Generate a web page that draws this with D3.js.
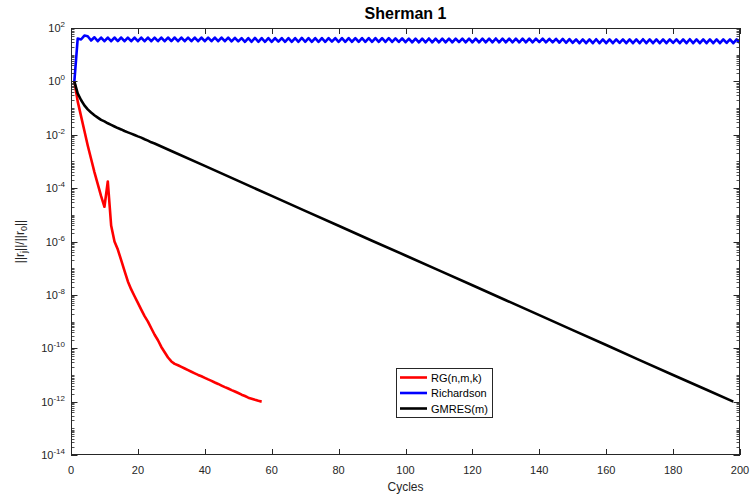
<!DOCTYPE html>
<html>
<head>
<meta charset="utf-8">
<script src="https://cdn.jsdelivr.net/npm/d3@7"></script>
<style>
  html, body { margin: 0; padding: 0; background: #fff; }
  svg { display: block; font-family: "Liberation Sans", Arial, Helvetica, sans-serif; }
</style>
</head>
<body>
<svg id="chart" width="750" height="494"></svg>
<script>
// ---------- data ----------
const titleText = "Sherman 1";
const xLabel = "Cycles";
const xTicks = [0, 20, 40, 60, 80, 100, 120, 140, 160, 180, 200];
const yTickExponents = [2, 0, -2, -4, -6, -8, -10, -12, -14];
const seriesNames = ["RG(n,m,k)", "Richardson", "GMRES(m)"];
const seriesColors = ["#ff0000", "#0000ff", "#000000"];

const rgCycles = [1,2,3,4,5,6,7,8,9,10,11,12,13,14,15,16,17,18,19,20,21,22,23,24,25,26,27,28,29,30,
  31,32,33,34,35,36,37,38,39,40,41,42,43,44,45,46,47,48,49,50,51,52,53,54,55,56,57];
const rgValues = [1, 1.78e-1, 5.0e-2, 1.41e-2, 3.98e-3, 1.26e-3, 3.98e-4, 1.41e-4, 5.0e-5, 2.0e-5,
  1.78e-4, 3.98e-6, 1.0e-6, 5.0e-7, 2.0e-7, 7.9e-8, 3.2e-8, 1.6e-8, 8.9e-9, 5.0e-9,
  2.8e-9, 1.6e-9, 1.0e-9, 5.6e-10, 3.2e-10, 2.0e-10, 1.12e-10, 7.1e-11, 4.5e-11, 3.2e-11,
  2.6e-11, 2.3e-11, 2.0e-11, 1.74e-11, 1.51e-11, 1.32e-11, 1.15e-11, 1.0e-11, 8.9e-12, 7.8e-12,
  6.8e-12, 6.0e-12, 5.2e-12, 4.6e-12, 4.0e-12, 3.5e-12, 3.1e-12, 2.7e-12, 2.4e-12, 2.1e-12,
  1.82e-12, 1.62e-12, 1.41e-12, 1.29e-12, 1.17e-12, 1.07e-12, 1.0e-12];

// Richardson: one value per cycle, 1..200
const richValues = [
  1, 40, 37, 52, 49, 34, 45, 32, 44, 32,
  44, 32, 44, 32.5, 44, 32, 43.5, 32, 44, 32,
  44, 32, 44, 32, 43.5, 32, 44, 32, 44, 32.5,
  44, 32, 44, 32, 43.5, 32, 44, 32, 44, 32,
  43.5, 32, 44, 32, 44, 32, 43.5, 31.5, 43, 31.5,
  42, 30.5, 42, 30.5, 42.5, 30.5, 42, 30.5, 42, 30.5,
  42, 31, 42, 30.5, 42, 30.5, 42, 30.5, 42.5, 30.5,
  42, 30.5, 42, 30.5, 42, 30.5, 42, 31, 42, 30.5,
  42, 30.5, 42, 30.5, 41.5, 30.5, 42, 30.5, 42, 30.5,
  42, 30.5, 41.5, 30, 41.5, 30, 41, 30, 41, 29.5,
  40, 29, 40, 29, 40, 29, 40.5, 29, 40, 29,
  40, 29, 40, 29, 40, 29.5, 40, 29, 40, 29,
  40, 29, 40, 29, 40, 29, 40.5, 29, 40, 29,
  40, 29, 40, 29, 40, 29, 40, 29, 40, 29.5,
  40, 29, 39.5, 29, 39.5, 28.5, 39, 28, 38.5, 28,
  37.5, 27, 37.5, 27, 37.5, 27, 38, 27, 37.5, 27,
  37.5, 27, 37.5, 27.5, 37.5, 27, 37.5, 27, 37.5, 27,
  38, 27, 37.5, 27, 37.5, 27, 37.5, 27, 37.5, 27.5,
  37.5, 27, 37.5, 27, 38, 27, 37.5, 27, 37.5, 27,
  37.5, 27, 37.5, 27, 37.5, 27.5, 37.5, 27, 37.5, 27
];
const richCycles = richValues.map((v, i) => i + 1);

const gmresCycles = [1,2,3,4,5,6,7,8,9,10,11,12,13,14,15,16,17,18,19,20,21,22,23,24,25,
  30,40,50,60,70,80,90,100,110,120,130,140,150,160,170,180,190,198];
const gmresValues = [1, 0.355, 0.20, 0.126, 0.089, 0.068, 0.054, 0.044, 0.036, 0.0316,
  0.0269, 0.0234, 0.0204, 0.0178, 0.0158, 0.0138, 0.0123, 0.011, 0.0098, 0.0087,
  0.0078, 0.0068, 0.006, 0.0052, 0.0047,
  2.45e-3, 6.8e-4, 1.86e-4, 5.1e-5, 1.41e-5, 3.9e-6, 1.07e-6, 3.0e-7, 8.3e-8, 2.3e-8,
  6.3e-9, 1.74e-9, 4.8e-10, 1.32e-10, 3.6e-11, 1.0e-11, 2.8e-12, 1.0e-12];

// ---------- layout ----------
const svg = d3.select("#chart");
const L = 71, R = 740, T = 28, B = 455;
const axisColor = "#262626";

const x = d3.scaleLinear().domain([0, 200]).range([L, R]);
const y = d3.scaleLog().domain([1e-14, 1e2]).range([B, T]);

// clip
svg.append("defs").append("clipPath").attr("id", "clip")
  .append("rect").attr("x", L).attr("y", T).attr("width", R - L).attr("height", B - T);

// ---------- lines ----------
const line = d3.line().x(d => x(d[0])).y(d => y(d[1]));
const series = [
  rgCycles.map((c, i) => [c, rgValues[i]]),
  richCycles.map((c, i) => [c, richValues[i]]),
  gmresCycles.map((c, i) => [c, gmresValues[i]])
];
const gLines = svg.append("g").attr("clip-path", "url(#clip)");
series.forEach((s, i) => {
  gLines.append("path").datum(s)
    .attr("d", line)
    .attr("fill", "none")
    .attr("stroke", seriesColors[i])
    .attr("stroke-width", 2.6)
    .attr("stroke-linejoin", "round")
    .attr("stroke-linecap", "butt");
});

// ---------- axes (MATLAB-style, inward ticks, box) ----------
const gAx = svg.append("g");
// x ticks bottom & top
xTicks.forEach(t => {
  const px = Math.round(x(t)) + 0.5;
  gAx.append("line").attr("x1", px).attr("x2", px).attr("y1", B).attr("y2", B - 6)
    .attr("stroke", axisColor).attr("stroke-width", 1);
  gAx.append("line").attr("x1", px).attr("x2", px).attr("y1", T).attr("y2", T + 6)
    .attr("stroke", axisColor).attr("stroke-width", 1);
  gAx.append("text").attr("x", x(t)).attr("y", B + 19)
    .attr("text-anchor", "middle").attr("font-size", 11).attr("fill", axisColor).text(t);
});

// y minor ticks
const minorTicks = [];
for (let e = -14; e < 2; e++) {
  for (let m = 1; m <= 9; m++) {
    const v = m * Math.pow(10, e);
    if (m === 1 && yTickExponents.includes(e)) continue;
    minorTicks.push(v);
  }
}
minorTicks.forEach(v => {
  const py = Math.round(y(v)) + 0.5;
  gAx.append("line").attr("x1", L).attr("x2", L + 3.5).attr("y1", py).attr("y2", py)
    .attr("stroke", axisColor).attr("stroke-width", 0.8);
  gAx.append("line").attr("x1", R).attr("x2", R - 3.5).attr("y1", py).attr("y2", py)
    .attr("stroke", axisColor).attr("stroke-width", 0.8);
});
// y major ticks + labels
yTickExponents.forEach(e => {
  const py = Math.round(y(Math.pow(10, e))) + 0.5;
  gAx.append("line").attr("x1", L).attr("x2", L + 6.5).attr("y1", py).attr("y2", py)
    .attr("stroke", axisColor).attr("stroke-width", 1);
  gAx.append("line").attr("x1", R).attr("x2", R - 6.5).attr("y1", py).attr("y2", py)
    .attr("stroke", axisColor).attr("stroke-width", 1);
  const t = gAx.append("text").attr("x", L - 6).attr("y", y(Math.pow(10, e)) + 4)
    .attr("text-anchor", "end").attr("font-size", 11).attr("fill", axisColor);
  t.append("tspan").text("10");
  t.append("tspan").attr("dy", -5).attr("font-size", 8).text(String(e).replace("-", "-"));
});

// box
gAx.append("rect").attr("x", L + 0.5).attr("y", T + 0.5).attr("width", R - L - 1).attr("height", B - T - 1)
  .attr("fill", "none").attr("stroke", axisColor).attr("stroke-width", 1);

// ---------- labels ----------
svg.append("text").attr("x", (L + R) / 2).attr("y", 19)
  .attr("text-anchor", "middle").attr("font-size", 16).attr("font-weight", "bold")
  .attr("fill", "#000").text(titleText);

svg.append("text").attr("x", (L + R) / 2).attr("y", 491)
  .attr("text-anchor", "middle").attr("font-size", 12).attr("fill", axisColor).text(xLabel);

const yl = svg.append("text")
  .attr("transform", `translate(24,${(T + B) / 2}) rotate(-90)`)
  .attr("text-anchor", "middle").attr("font-size", 12).attr("fill", axisColor);
yl.append("tspan").text("||r");
yl.append("tspan").attr("dy", 3).attr("font-size", 9).text("j");
yl.append("tspan").attr("dy", -3).text("||/||r");
yl.append("tspan").attr("dy", 3).attr("font-size", 9).text("0");
yl.append("tspan").attr("dy", -3).text("||");

// ---------- legend ----------
const lg = svg.append("g");
lg.append("rect").attr("x", 396.5).attr("y", 368.5).attr("width", 96).attr("height", 49)
  .attr("fill", "#fff").attr("stroke", axisColor).attr("stroke-width", 1);
seriesNames.forEach((name, i) => {
  const ly = 377.5 + i * 15.5;
  lg.append("line").attr("x1", 400).attr("x2", 427).attr("y1", ly).attr("y2", ly)
    .attr("stroke", seriesColors[i]).attr("stroke-width", 2.6);
  lg.append("text").attr("x", 431).attr("y", ly + 4).attr("font-size", 11)
    .attr("fill", "#000").text(name);
});
</script>
</body>
</html>
